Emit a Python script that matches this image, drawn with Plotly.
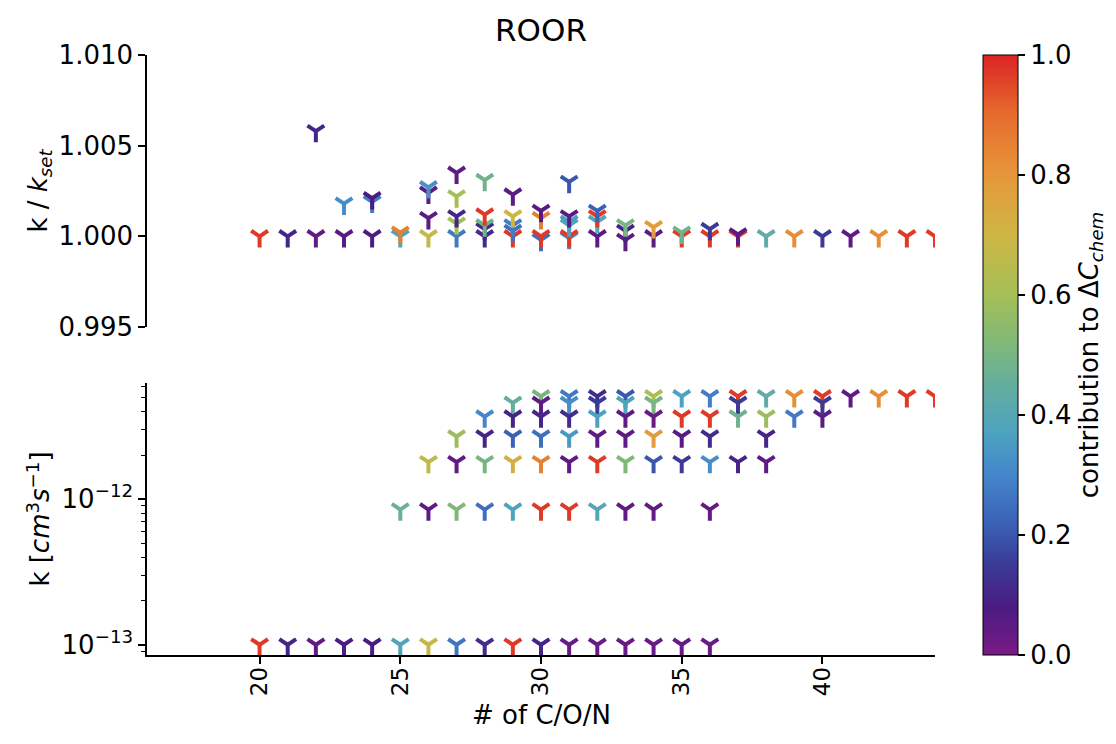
import plotly.graph_objects as go
import math

# colour map (custom rainbow, purple -> red)
CSCALE = [
    [0.00, "#7a1a86"], [0.08, "#4b1c82"], [0.15, "#3b3a96"], [0.22, "#3a62b6"],
    [0.30, "#4586cc"], [0.37, "#4ca2c0"], [0.45, "#64ae9e"], [0.52, "#80b878"],
    [0.60, "#a4bf56"], [0.70, "#ceb644"], [0.80, "#e6963a"], [0.90, "#e66c2e"],
    [1.00, "#dc2424"],
]

# ---------------- upper panel: k / k_set ----------------
ratio_x = [20, 21, 22, 22, 23, 23, 24, 24, 24, 25, 25,
           26, 26, 26, 26, 27, 27, 27, 27, 27,
           28, 28, 28, 28, 28, 29, 29, 29, 29, 29,
           30, 30, 30, 30, 31, 31, 31, 31, 31, 31,
           32, 32, 32, 32, 33, 33, 33, 34, 34, 35, 35,
           36, 36, 37, 37, 38, 39, 40, 41, 42, 43, 44]
ratio_y = [1.0000, 1.0000, 1.0000, 1.0058, 1.0000, 1.0018, 1.0000, 1.0019, 1.0021, 1.0000, 1.0002,
           1.0000, 1.0010, 1.0024, 1.0027, 1.0000, 1.0007, 1.0011, 1.0022, 1.0035,
           1.0000, 1.0004, 1.0006, 1.0012, 1.0031, 1.0000, 1.0003, 1.0006, 1.0011, 1.0023,
           0.9998, 1.0000, 1.0010, 1.0014, 0.9999, 1.0000, 1.0006, 1.0008, 1.0011, 1.0030,
           1.0000, 1.0008, 1.0011, 1.0014, 0.9998, 1.0003, 1.0006, 1.0000, 1.0005, 1.0000, 1.0002,
           1.0000, 1.0004, 1.0000, 1.0001, 1.0000, 1.0000, 1.0000, 1.0000, 1.0000, 1.0000, 1.0000]
ratio_c = [0.97, 0.10, 0.04, 0.10, 0.06, 0.32, 0.08, 0.28, 0.08, 0.38, 0.85,
           0.68, 0.05, 0.05, 0.33, 0.27, 0.60, 0.10, 0.60, 0.05,
           0.12, 0.10, 0.48, 0.97, 0.48, 0.97, 0.25, 0.28, 0.70, 0.05,
           0.25, 0.97, 0.85, 0.06, 0.30, 0.97, 0.38, 0.36, 0.06, 0.20,
           0.05, 0.40, 0.97, 0.22, 0.05, 0.10, 0.50, 0.05, 0.78, 0.97, 0.48,
           0.97, 0.15, 0.97, 0.05, 0.43, 0.82, 0.15, 0.05, 0.82, 0.97, 0.97]

# ---------------- lower panel: k [cm3 s-1] ----------------
rowA_k = 5.1e-12
rowA_x = [30, 31, 32, 33, 34, 35, 36, 37, 38, 39, 40, 41, 42, 43, 44]
rowA_c = [0.50, 0.27, 0.12, 0.20, 0.62, 0.37, 0.28, 0.97, 0.43, 0.82, 0.97, 0.05, 0.82, 0.97, 0.97]

rowB_k = 4.6e-12
rowB_x = [29, 30, 31, 32, 33, 34, 37, 40]
rowB_c = [0.45, 0.05, 0.32, 0.15, 0.38, 0.50, 0.15, 0.15]

rowC_k = 3.7e-12
rowC_x = [28, 29, 30, 31, 32, 33, 34, 35, 36, 37, 38, 39, 40]
rowC_c = [0.30, 0.10, 0.10, 0.12, 0.37, 0.05, 0.03, 0.97, 0.97, 0.48, 0.58, 0.27, 0.05]

rowD_k = 2.7e-12
rowD_x = [27, 28, 29, 30, 31, 32, 33, 34, 35, 36, 38]
rowD_c = [0.58, 0.10, 0.22, 0.25, 0.35, 0.05, 0.05, 0.78, 0.06, 0.12, 0.10]

rowE_k = 1.8e-12
rowE_x = [26, 27, 28, 29, 30, 31, 32, 33, 34, 35, 36, 37, 38]
rowE_c = [0.66, 0.05, 0.50, 0.72, 0.85, 0.05, 0.97, 0.52, 0.20, 0.15, 0.32, 0.10, 0.05]

rowF_k = 8.5e-13
rowF_x = [25, 26, 27, 28, 29, 30, 31, 32, 33, 34, 36]
rowF_c = [0.47, 0.05, 0.52, 0.25, 0.38, 0.97, 0.97, 0.40, 0.04, 0.04, 0.04]

rowG_k = 1.0e-13
rowG_x = [20, 21, 22, 23, 24, 25, 26, 27, 28, 29, 30, 31, 32, 33, 34, 35, 36]
rowG_c = [0.97, 0.10, 0.04, 0.08, 0.08, 0.38, 0.68, 0.26, 0.12, 0.97, 0.10,
          0.03, 0.03, 0.03, 0.03, 0.03, 0.03]

rows = [(rowA_k, rowA_x, rowA_c), (rowB_k, rowB_x, rowB_c), (rowC_k, rowC_x, rowC_c),
        (rowD_k, rowD_x, rowD_c), (rowE_k, rowE_x, rowE_c), (rowF_k, rowF_x, rowF_c),
        (rowG_k, rowG_x, rowG_c)]
low_x, low_k, low_c = [], [], []
for k, xs, cs in rows:
    low_x += xs
    low_k += [k] * len(xs)
    low_c += cs

x_ticks = [20, 25, 30, 35, 40]
ratio_ticks = [0.995, 1.000, 1.005, 1.010]
cbar_ticks = [0.0, 0.2, 0.4, 0.6, 0.8, 1.0]

FONT = "DejaVu Sans"
FS = 26
TICKF = dict(family=FONT, size=FS, color="black")

marker_common = dict(symbol="y-down-open", size=14, colorscale=CSCALE, cmin=0, cmax=1,
                     line=dict(width=4))

fig = go.Figure()
fig.add_trace(go.Scatter(
    x=ratio_x, y=ratio_y, mode="markers", xaxis="x", yaxis="y", showlegend=False,
    marker=dict(color=ratio_c, **marker_common), hoverinfo="skip"))
fig.add_trace(go.Scatter(
    x=low_x, y=low_k, mode="markers", xaxis="x2", yaxis="y2", showlegend=False,
    marker=dict(color=low_c, showscale=True,
                colorbar=dict(
                    x=(983 - 147) / 788, xanchor="left", y=0.5, yanchor="middle",
                    len=1, lenmode="fraction", thickness=35, thicknessmode="pixels",
                    xpad=0, ypad=0, outlinewidth=1, outlinecolor="black",
                    tickvals=cbar_ticks, ticktext=[f"{v:.1f}" for v in cbar_ticks],
                    ticks="outside", ticklen=7, tickwidth=1.5, tickcolor="black",
                    tickfont=TICKF,
                    title=dict(text="contribution to Δ<i>C</i><sub><i>chem</i></sub>",
                               side="right", font=dict(family=FONT, size=FS, color="black"))),
                **marker_common),
    hoverinfo="skip"))

minor_vals = [m * 10 ** e for e in (-14, -13, -12) for m in range(2, 10)
              if 0.85e-13 <= m * 10 ** e <= 6.3e-12]

# page body has an 8px margin, so the figure is offset by 8px; compensate
OFF = 8
W, H = 1116, 744
fig.update_layout(
    width=W, height=H,
    margin=dict(l=147 - OFF, r=W - 935 + OFF, t=55 - OFF, b=H - 655 + OFF),
    paper_bgcolor="white", plot_bgcolor="white",
    font=dict(family=FONT, size=FS, color="black"),
    title=dict(text="ROOR", x=(541 - OFF) / W, xanchor="center", y=1 - (30 - OFF) / H,
               yanchor="middle", font=dict(family=FONT, size=31, color="black")),
    xaxis=dict(domain=[0, 1], anchor="y", range=[16, 44], visible=False, showgrid=False),
    yaxis=dict(domain=[(655 - 327) / 600, 1], anchor="x", range=[0.995, 1.010],
               tickvals=ratio_ticks, ticktext=[f"{v:.3f}" for v in ratio_ticks],
               showline=True, linecolor="black", linewidth=1.5, mirror=False,
               ticks="outside", ticklen=7, tickwidth=1.5, tickcolor="black",
               showgrid=False, zeroline=False, tickfont=TICKF,
               title=dict(text="k / <i>k</i><sub><i>set</i></sub>", font=dict(family=FONT, size=FS),
                          standoff=4)),
    xaxis2=dict(domain=[0, 1], anchor="y2", range=[16, 44], tickvals=x_ticks,
                ticktext=[str(v) for v in x_ticks], tickangle=-90,
                showline=True, linecolor="black", linewidth=1.5,
                ticks="outside", ticklen=7, tickwidth=1.5, tickcolor="black",
                ticklabelstandoff=-6,
                showgrid=False, zeroline=False, tickfont=dict(family=FONT, size=23, color="black")),
    yaxis2=dict(domain=[0, (655 - 383) / 600], anchor="x2", type="log",
                range=[math.log10(0.85e-13), math.log10(6.3e-12)],
                tickvals=[1e-13, 1e-12], ticktext=["10<sup>−13</sup>", "10<sup>−12</sup>"],
                showline=True, linecolor="black", linewidth=1.5,
                ticks="outside", ticklen=7, tickwidth=1.5, tickcolor="black",
                minor=dict(tickvals=minor_vals, ticks="outside", ticklen=4, tickwidth=1,
                           tickcolor="black", showgrid=False),
                showgrid=False, zeroline=False, tickfont=TICKF,
                title=dict(text="k [<i>cm</i><sup>3</sup><i>s</i><sup>−1</sup>]",
                           font=dict(family=FONT, size=FS), standoff=4)),
    annotations=[dict(text="# of C/O/N", xref="paper", yref="paper", x=0.5,
                      y=-(715 - 655) / 600, xanchor="center", yanchor="middle",
                      showarrow=False, font=dict(family=FONT, size=FS, color="black"))],
)

fig.write_html("out.html")
